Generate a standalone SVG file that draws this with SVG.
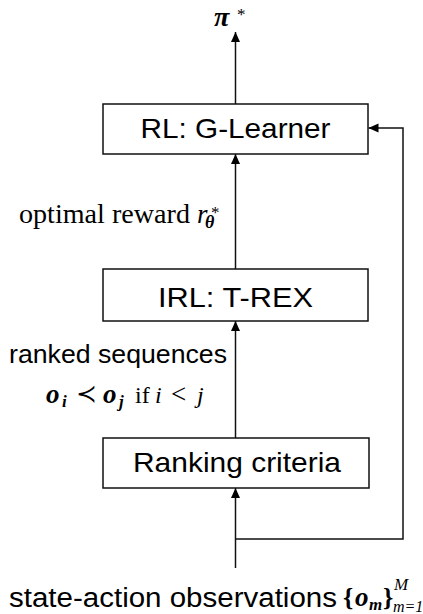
<svg xmlns="http://www.w3.org/2000/svg" width="423" height="614" viewBox="0 0 423 614">
  <style>
    .box { fill: #ffffff; stroke: #111111; stroke-width: 1.5; }
    .lbl { font-family: "Liberation Sans", Arial, sans-serif; font-size: 28px; fill: #000000; text-anchor: middle; }
    .sans { font-family: "Liberation Sans", Arial, sans-serif; fill: #000000; }
    .ser { font-family: "Liberation Serif", "DejaVu Serif", serif; fill: #000000; }
    .bi { font-weight: bold; font-style: italic; }
    .it { font-style: italic; }
    .wire { fill: none; stroke: #111111; stroke-width: 1.5; }
  </style>
  <defs>
    <marker id="ah" viewBox="0 0 10 10" refX="10" refY="5" markerWidth="10" markerHeight="10" markerUnits="userSpaceOnUse" orient="auto">
      <path d="M0,0.5 L10,5 L0,9.5 Z" fill="#000000"/>
    </marker>
  </defs>

  <g id="connectors">
    <line class="wire" x1="235.5" y1="568" x2="235.5" y2="488" marker-end="url(#ah)"/>
    <line class="wire" x1="235.5" y1="438" x2="235.5" y2="321" marker-end="url(#ah)"/>
    <line class="wire" x1="235.5" y1="269" x2="235.5" y2="154" marker-end="url(#ah)"/>
    <line class="wire" x1="235.5" y1="104" x2="235.5" y2="32" marker-end="url(#ah)"/>
    <polyline class="wire" points="235.5,539 403,539 403,128 368.5,128" marker-end="url(#ah)"/>
  </g>

  <g id="node-rl">
    <rect class="box" x="103" y="104" width="265" height="50"/>
    <text class="lbl" x="235.5" y="138" textLength="190" lengthAdjust="spacingAndGlyphs">RL: G-Learner</text>
  </g>

  <g id="node-irl">
    <rect class="box" x="103" y="269" width="265" height="52"/>
    <text class="lbl" x="235.5" y="306.5" textLength="155" lengthAdjust="spacingAndGlyphs">IRL: T-REX</text>
  </g>

  <g id="node-ranking">
    <rect class="box" x="103" y="438" width="266" height="50"/>
    <text class="lbl" x="237" y="471.5" textLength="208" lengthAdjust="spacingAndGlyphs">Ranking criteria</text>
  </g>

  <g id="label-policy">
    <text class="ser" x="214" y="26"><tspan class="bi" font-size="28">π</tspan><tspan x="237" y="20" font-size="17">*</tspan></text>
  </g>

  <g id="label-reward">
    <text class="ser" x="19" y="223" font-size="27" textLength="171" lengthAdjust="spacingAndGlyphs">optimal reward</text>
    <text class="ser" x="197" y="223" font-size="27"><tspan class="it">r</tspan><tspan class="bi" x="205" y="228" font-size="18">θ</tspan><tspan x="211" y="218" font-size="17">*</tspan></text>
  </g>

  <g id="label-ranked">
    <text class="sans" x="9" y="363" font-size="26" textLength="218" lengthAdjust="spacingAndGlyphs">ranked sequences</text>
    <text class="ser" x="46" y="403" font-size="27"><tspan class="bi">o</tspan><tspan class="bi" x="62" y="407" font-size="17">i</tspan><tspan x="76" y="402" font-size="25">≺</tspan><tspan class="bi" x="103" y="403">o</tspan><tspan class="bi" x="119" y="407" font-size="17">j</tspan><tspan x="135" y="403" font-size="24">if</tspan><tspan class="it" x="155" y="403" font-size="24">i</tspan><tspan x="171" y="403" font-size="27">&lt;</tspan><tspan class="it" x="197" y="403" font-size="24">j</tspan></text>
  </g>

  <g id="label-observations">
    <text class="sans" x="9" y="607" font-size="27" textLength="328" lengthAdjust="spacingAndGlyphs">state-action observations</text>
    <text class="ser" x="343" y="606" font-size="26"><tspan font-weight="bold">{</tspan><tspan class="bi" x="355" font-size="27">o</tspan><tspan class="bi" x="369" y="610" font-size="17">m</tspan><tspan font-weight="bold" x="383" y="606">}</tspan><tspan class="it" x="394" y="590" font-size="17">M</tspan><tspan class="it" x="393" y="612" font-size="16">m=1</tspan></text>
  </g>
</svg>
